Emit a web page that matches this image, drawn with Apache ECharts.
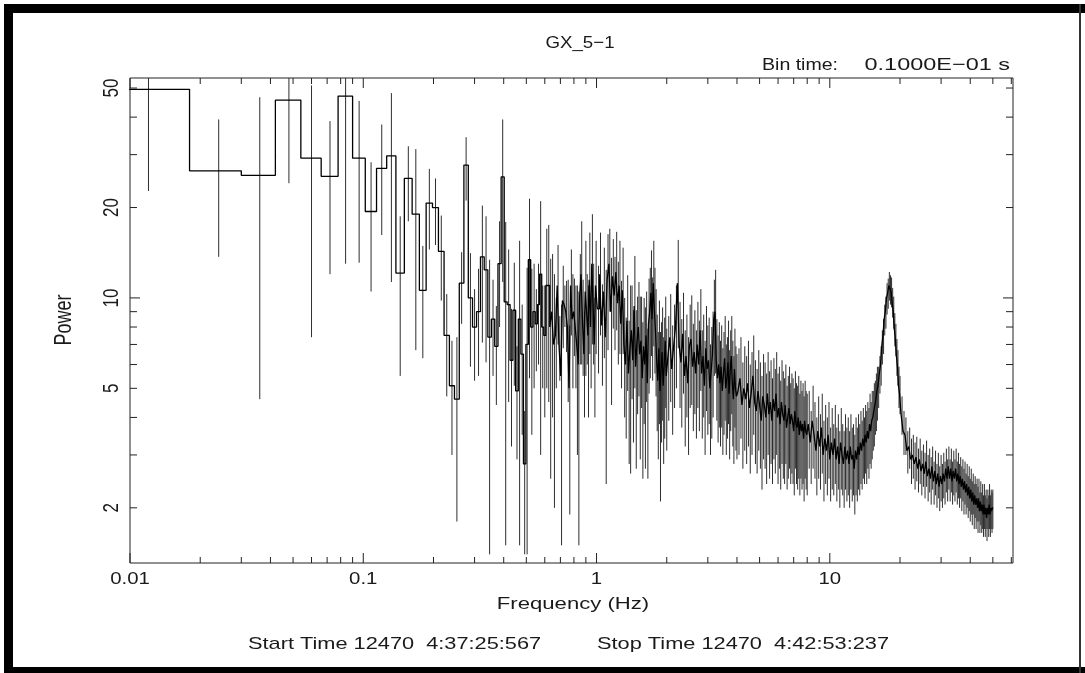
<!DOCTYPE html>
<html>
<head>
<meta charset="utf-8">
<script src="https://cdn.jsdelivr.net/npm/echarts@6/dist/echarts.min.js"></script>
<style>
html,body{margin:0;padding:0;background:#fff;}
#chart{width:1085px;height:673px;}
</style>
</head>
<body>
<div id="chart"></div>
<script>
// power spectrum GX_5-1, frequency (Hz) / power / 1-sigma error
var freqLow = [0.012,0.024,0.036,0.048,0.060,0.072,0.084,0.096,0.108,0.120,
  0.132,0.144,0.156,0.168,0.180,0.192,0.204,0.216,0.228,0.240,
  0.252,0.264,0.276,0.288,0.300,0.312,0.324,0.336,0.348,0.360,
  0.372,0.384,0.396,0.408,0.420,0.432,0.444,0.456,0.468,0.480,
  0.492,0.504,0.516,0.528,0.540,0.552,0.564,0.576,0.588,0.600,
  0.612,0.624,0.636,0.648,0.660,0.672,0.684,0.696,0.708,0.720,
  0.732,0.744,0.756,0.768,0.780,0.792,0.804,0.816,0.828,0.840,
  0.852,0.864,0.876,0.888,0.900,0.912,0.924,0.936,0.948,0.960,
  0.972,0.984,0.996];
var powLow = [49.5,26.5,25.6,45.6,29.2,25.4,47.0,29.2,19.4,27.0,
  29.7,12.1,25.0,19.0,10.6,20.7,20.0,14.3,7.5,5.1,
  4.6,11.2,27.7,10.0,8.0,9.0,13.7,12.4,7.4,8.5,
  6.9,13.0,25.3,9.7,9.5,6.2,9.1,4.9,8.5,6.5,
  2.8,7.0,13.4,8.0,9.0,8.2,9.5,12.0,8.0,7.5,
  11.0,11.0,8.0,9.0,7.0,7.5,11.0,7.0,5.5,9.8,
  9.5,9.0,8.0,5.0,11.0,8.5,9.0,8.0,7.0,6.0,
  10.0,12.0,8.5,6.5,10.5,9.0,7.5,11.5,8.0,13.0,
  9.5,7.0,11.0];
var errLow = [26.8,12.8,21.0,21.5,21.8,13.4,34.0,16.1,8.9,10.8,
  18.4,6.6,7.0,12.3,4.3,6.2,5.0,4.5,2.8,2.1,
  2.8,3.0,6.6,4.1,2.7,3.5,6.6,6.3,6.0,3.0,
  2.5,5.0,14.0,8.2,5.0,3.0,4.0,2.0,7.0,3.0,
  1.4,5.6,8.0,4.5,4.0,2.5,3.5,9.0,3.0,3.5,
  6.0,6.5,5.5,5.0,5.0,2.5,4.0,1.7,4.0,3.0,
  1.5,2.4,3.5,3.1,3.5,3.5,2.6,3.0,4.0,4.5,
  4.0,6.0,3.0,2.5,5.0,3.0,3.5,5.0,3.0,6.0,
  3.5,3.0,4.5];

var freqMid = [1.02,1.04,1.06,1.08,1.10,1.12,1.14,1.16,1.18,1.20,
  1.22,1.24,1.26,1.28,1.30,1.32,1.34,1.36,1.38,1.40,
  1.42,1.44,1.46,1.48,1.50,1.52,1.54,1.56,1.58,1.60,
  1.62,1.64,1.66,1.68,1.70,1.72,1.74,1.76,1.78,1.80,
  1.82,1.84,1.86,1.88,1.90,1.92,1.94,1.96,1.98,2.00,
  2.04,2.08,2.12,2.16,2.20,2.24,2.28,2.32,2.36,2.40,
  2.44,2.48,2.52,2.56,2.60,2.64,2.68,2.72,2.76,2.80,
  2.84,2.88,2.92,2.96,3.00,3.04,3.08,3.12,3.16,3.20,
  3.24,3.28,3.32,3.36,3.40,3.44,3.48,3.52,3.56,3.60,
  3.64,3.68,3.72,3.76,3.80,3.84,3.88,3.92,3.96,4.00,
  4.08,4.16,4.24,4.32,4.40,4.48,4.56,4.64,4.72,4.80,
  4.88,4.96,5.04,5.12,5.20,5.28,5.36,5.44,5.52,5.60,
  5.68,5.76,5.84,5.92,6.00,6.08,6.16,6.24,6.32,6.40,
  6.48,6.56,6.64,6.72,6.80,6.88,6.96,7.04,7.12,7.20,
  7.28,7.36,7.44,7.52,7.60,7.68,7.76,7.84,7.92,8.00];
var powMid = [9.2,12.0,8.1,10.5,7.4,11.5,13.0,9.0,11.8,10.2,
  12.2,9.6,11.0,8.2,10.6,7.0,6.0,8.4,5.6,6.8,
  7.8,6.2,9.4,5.9,7.1,8.0,6.5,7.2,5.4,6.9,
  6.0,7.5,5.2,8.2,9.0,10.4,8.5,11.2,9.1,7.7,
  6.2,5.3,6.8,4.9,5.8,6.6,5.1,6.0,7.2,5.5,
  6.3,7.4,5.8,6.9,8.0,11.2,7.0,6.1,7.6,5.5,
  6.4,5.2,6.9,7.3,5.9,6.6,5.6,7.0,6.0,7.8,
  5.6,6.4,5.1,6.8,5.8,6.2,5.0,5.7,6.5,8.5,
  9.0,6.2,5.4,6.0,5.2,5.9,4.9,5.6,6.3,5.0,
  5.4,6.1,4.8,5.7,6.4,5.2,4.6,5.8,5.0,4.7,
  4.9,5.4,4.4,5.0,4.6,5.2,4.3,4.8,5.5,4.5,
  4.2,4.9,4.4,3.9,4.7,4.4,4.0,4.8,4.1,4.5,
  3.9,4.6,4.2,4.8,4.0,4.3,3.8,4.5,4.1,3.9,
  4.4,3.7,4.0,4.3,3.8,4.1,3.9,3.6,4.2,3.8,
  3.7,4.0,3.5,3.9,3.6,3.8,3.4,3.9,3.6,3.5];
var errMid = [3.6,4.5,3.0,4.2,5.0,4.8,4.0,4.6,3.9,3.5,
  4.4,3.6,4.5,3.2,4.1,3.0,2.6,3.5,2.8,4.2,
  3.2,2.9,4.4,3.2,3.0,3.3,3.6,2.9,2.9,3.1,
  3.3,3.0,2.7,3.4,3.6,4.0,3.2,4.3,3.5,3.0,
  2.6,2.4,3.0,2.8,2.5,2.7,2.3,2.6,2.9,2.4,
  2.4,2.9,2.3,2.6,3.0,4.4,2.7,2.4,2.8,2.3,
  2.4,2.2,2.6,2.9,2.3,2.5,2.2,2.7,2.4,2.9,
  2.2,2.4,2.1,2.6,2.3,2.4,2.0,2.3,2.5,3.0,
  3.4,2.3,2.1,2.3,2.0,2.2,1.9,2.1,2.4,2.0,
  2.0,2.3,1.9,2.1,2.3,2.0,1.8,2.1,1.9,1.8,
  1.9,2.0,1.7,1.9,1.8,2.0,1.7,1.8,2.0,1.7,
  1.6,1.8,1.7,1.6,1.8,1.7,1.6,1.8,1.6,1.7,
  1.5,1.7,1.6,1.8,1.6,1.6,1.5,1.7,1.6,1.5,
  1.6,1.4,1.5,1.6,1.4,1.5,1.5,1.4,1.5,1.4,
  1.4,1.5,1.3,1.4,1.3,1.4,1.3,1.4,1.3,1.3];

var freqHigh = [8.16,8.32,8.48,8.64,8.80,8.96,9.12,9.28,9.44,9.60,
  9.76,9.92,10.08,10.24,10.40,10.56,10.72,10.88,11.04,11.20,
  11.36,11.52,11.68,11.84,12.00,12.16,12.32,12.48,12.64,12.80,
  12.96,13.12,13.28,13.44,13.60,13.76,13.92,14.08,14.24,14.40,
  14.56,14.72,14.88,15.04,15.20,15.36,15.52,15.68,15.84,16.00,
  16.2,16.4,16.6,16.8,17.0,17.2,17.4,17.6,17.8,18.0,
  18.2,18.4,18.6,18.8,19.0,19.2,19.4,19.6,19.8,20.0,
  20.4,20.8,21.2,21.6,22.0,22.4,22.8,23.2,23.6,24.0,
  24.4,24.8,25.2,25.6,26.0,26.4,26.8,27.2,27.6,28.0,
  28.4,28.8,29.2,29.6,30.0,30.4,30.8,31.2,31.6,32.0,
  32.4,32.8,33.2,33.6,34.0,34.4,34.8,35.2,35.6,36.0,
  36.4,36.8,37.2,37.6,38.0,38.4,38.8,39.2,39.6,40.0,
  40.4,40.8,41.2,41.6,42.0,42.4,42.8,43.2,43.6,44.0,
  44.4,44.8,45.2,45.6,46.0,46.4,46.8,47.2,47.6,48.0,
  48.4,48.8,49.2,49.6,50.0];
var powHigh = [3.8,3.3,3.9,3.5,3.1,3.6,3.2,3.7,3.0,3.4,
  3.1,3.5,2.9,3.3,3.0,3.4,2.9,3.2,2.8,3.3,
  3.0,2.8,3.2,2.9,3.1,2.8,3.2,2.9,3.0,2.7,
  3.1,2.9,3.2,3.0,3.3,3.1,3.4,3.2,3.5,3.3,
  3.6,3.4,3.8,3.6,3.9,4.0,4.2,4.4,4.6,4.9,
  5.1,5.6,6.0,6.9,7.5,8.5,9.0,10.0,10.4,11.0,
  10.7,10.5,9.7,9.0,7.9,7.3,6.4,5.9,5.1,4.8,
  4.1,3.6,3.5,3.1,3.2,2.9,3.0,2.8,2.95,2.7,
  2.9,2.65,2.8,2.6,2.85,2.55,2.7,2.5,2.75,2.45,
  2.65,2.4,2.6,2.35,2.55,2.4,2.6,2.45,2.7,2.5,
  2.75,2.5,2.7,2.45,2.65,2.5,2.7,2.45,2.6,2.4,
  2.55,2.35,2.5,2.3,2.45,2.25,2.4,2.2,2.35,2.15,
  2.3,2.1,2.25,2.05,2.2,2.05,2.15,2.0,2.15,1.95,
  2.1,1.95,2.05,1.9,2.05,1.9,2.0,1.85,2.0,1.9,
  2.05,1.9,2.0,1.95,2.0];
var errHigh = [1.1,0.9,1.2,1.0,0.9,1.1,0.9,1.1,0.9,1.0,
  0.9,1.0,0.8,1.0,0.8,1.0,0.8,0.9,0.8,1.0,
  0.8,0.8,0.9,0.8,0.9,0.8,0.9,0.8,0.8,0.8,
  0.9,0.8,0.9,0.8,0.9,0.8,0.9,0.8,0.9,0.9,
  0.9,0.9,1.0,0.9,1.0,0.9,1.0,0.9,1.0,1.0,
  0.8,0.8,0.9,0.9,1.0,1.0,1.1,1.2,1.2,1.2,
  1.2,1.2,1.1,1.1,1.0,0.9,0.9,0.8,0.8,0.7,
  0.6,0.6,0.5,0.5,0.5,0.5,0.5,0.5,0.5,0.45,
  0.5,0.45,0.45,0.45,0.5,0.45,0.45,0.45,0.45,0.4,
  0.45,0.4,0.45,0.4,0.45,0.4,0.45,0.4,0.45,0.4,
  0.45,0.4,0.45,0.4,0.45,0.4,0.45,0.4,0.45,0.4,
  0.4,0.4,0.4,0.4,0.4,0.35,0.4,0.35,0.4,0.35,
  0.4,0.35,0.35,0.35,0.35,0.35,0.35,0.35,0.35,0.3,
  0.35,0.3,0.35,0.3,0.35,0.3,0.3,0.3,0.3,0.3,
  0.35,0.3,0.3,0.3,0.3];

// axis ticks and labels
var xTickVals = [0.01,0.02,0.03,0.04,0.05,0.06,0.07,0.08,0.09,
  0.1,0.2,0.3,0.4,0.5,0.6,0.7,0.8,0.9,
  1,2,3,4,5,6,7,8,9,10,20,30,40,50,60];
var xMajor = [0.01,0.1,1,10];
var xLabelVals = [0.01,0.1,1,10];
var xLabels = ['0.01','0.1','1','10'];
var yTickVals = [2,3,4,5,6,7,8,9,10,20,30,40,50];
var yMajor = [10];
var yLabelVals = [2,5,10,20,50];
var yLabels = ['2','5','10','20','50'];

var X_MIN = 0.01, X_MAX = 61, Y_MIN = 1.31, Y_MAX = 54;
var FONT = '"Liberation Sans", Arial, Helvetica, sans-serif';
var INK = '#1a1a1a';

var freq = freqLow.concat(freqMid, freqHigh);
var power = powLow.concat(powMid, powHigh);
var err = errLow.concat(errMid, errHigh);

// histogram style step: each bin runs between the midpoints to its neighbours
var stepPts = [];
for (var i = 0; i < freq.length; i++) {
  var left = i === 0 ? freq[0] - (freq[1] - freq[0]) / 2 : (freq[i - 1] + freq[i]) / 2;
  var right = i === freq.length - 1 ? freq[i] + (freq[i] - freq[i - 1]) / 2 : (freq[i] + freq[i + 1]) / 2;
  if (left <= 0) left = X_MIN / 2;
  stepPts.push([left, power[i]], [right, power[i]]);
}
var errData = freq.map(function (f, i) { return [f, power[i], err[i]]; });

var myChart = echarts.init(document.getElementById('chart'), null, {renderer: 'canvas'});

function txt(t, x, y, align, sx, size) {
  return {
    type: 'text', x: x, y: y, scaleX: sx, silent: true,
    style: {text: t, fill: INK, fontSize: size || 17, fontFamily: FONT, align: align, verticalAlign: 'middle'}
  };
}

var option = {
  animation: false,
  backgroundColor: '#fff',
  grid: {left: 130, top: 78, right: 72, bottom: 110, show: true, borderColor: '#222', borderWidth: 1, backgroundColor: 'transparent'},
  xAxis: {
    type: 'log', min: X_MIN, max: X_MAX, logBase: 10,
    axisLine: {show: false}, axisTick: {show: false}, axisLabel: {show: false}, splitLine: {show: false}
  },
  yAxis: {
    type: 'log', min: Y_MIN, max: Y_MAX, logBase: 10,
    axisLine: {show: false}, axisTick: {show: false}, axisLabel: {show: false}, splitLine: {show: false}
  },
  graphic: [
    {type: 'rect', shape: {x: 4, y: 4, width: 1081, height: 9}, style: {fill: '#000'}, silent: true},
    {type: 'rect', shape: {x: 4, y: 4, width: 9, height: 669}, style: {fill: '#000'}, silent: true},
    {type: 'rect', shape: {x: 4, y: 667, width: 1081, height: 6}, style: {fill: '#000'}, silent: true},
    {type: 'rect', shape: {x: 1079, y: 4, width: 2, height: 669}, style: {fill: '#333'}, silent: true},
    txt('GX_5\u22121', 580, 43, 'center', 1.1),
    txt('Bin time:', 762, 65, 'left', 1.15),
    txt('0.1000E\u221201 s', 1010, 65, 'right', 1.38),
    txt('Frequency (Hz)', 573, 604, 'center', 1.3),
    txt('Start Time 12470  4:37:25:567', 248, 644, 'left', 1.28),
    txt('Stop Time 12470  4:42:53:237', 889, 644, 'right', 1.28),
    {
      type: 'text', x: 65, y: 320, rotation: Math.PI / 2, scaleY: 1.3, silent: true,
      style: {text: 'Power', fill: INK, fontSize: 18, fontFamily: FONT, align: 'center', verticalAlign: 'middle'}
    }
  ],
  series: [
    {
      // error bars
      type: 'custom', clip: true, silent: true, z: 2,
      data: errData,
      renderItem: function (params, api) {
        var f = api.value(0), p = api.value(1), e = api.value(2);
        var lo = Math.max(p - e, 0.5);
        var a = api.coord([f, p + e]), b = api.coord([f, lo]);
        return {type: 'line', shape: {x1: a[0], y1: a[1], x2: b[0], y2: b[1]},
          style: {stroke: '#2e2e2e', lineWidth: 1}};
      }
    },
    {
      // step line
      type: 'line', data: stepPts, symbol: 'none', silent: true, z: 3, clip: true,
      lineStyle: {color: '#000', width: 1.3}
    },
    {
      // x ticks, bottom and top, pointing inward
      type: 'custom', clip: false, silent: true, z: 4,
      data: xTickVals.map(function (v) { return [v, Y_MIN]; }),
      renderItem: function (params, api) {
        var v = api.value(0);
        var len = xMajor.indexOf(v) >= 0 ? 10 : 6;
        var b = api.coord([v, Y_MIN]), t = api.coord([v, Y_MAX]);
        var st = {stroke: '#222', lineWidth: 1};
        return {type: 'group', children: [
          {type: 'line', shape: {x1: b[0], y1: b[1], x2: b[0], y2: b[1] - len}, style: st},
          {type: 'line', shape: {x1: t[0], y1: t[1], x2: t[0], y2: t[1] + len}, style: st}
        ]};
      }
    },
    {
      // y ticks, left and right, pointing inward
      type: 'custom', clip: false, silent: true, z: 4,
      data: yTickVals.map(function (v) { return [X_MIN, v]; }),
      renderItem: function (params, api) {
        var v = api.value(1);
        var len = yMajor.indexOf(v) >= 0 ? 10 : 7;
        var l = api.coord([X_MIN, v]), r = api.coord([X_MAX, v]);
        var st = {stroke: '#222', lineWidth: 1};
        return {type: 'group', children: [
          {type: 'line', shape: {x1: l[0], y1: l[1], x2: l[0] + len, y2: l[1]}, style: st},
          {type: 'line', shape: {x1: r[0], y1: r[1], x2: r[0] - len, y2: r[1]}, style: st}
        ]};
      }
    },
    {
      // x tick labels
      type: 'custom', clip: false, silent: true, z: 4,
      data: xLabelVals.map(function (v) { return [v, Y_MIN]; }),
      renderItem: function (params, api) {
        var p = api.coord([api.value(0), Y_MIN]);
        return {type: 'text', x: p[0], y: p[1] + 16, scaleX: 1.2,
          style: {text: xLabels[params.dataIndex], fill: INK, fontSize: 17, fontFamily: FONT, align: 'center', verticalAlign: 'middle'}};
      }
    },
    {
      // y tick labels, written upward as in the original plot
      type: 'custom', clip: false, silent: true, z: 4,
      data: yLabelVals.map(function (v) { return [X_MIN, v]; }),
      renderItem: function (params, api) {
        var p = api.coord([X_MIN, api.value(1)]);
        return {type: 'text', x: p[0] - 18, y: p[1], rotation: Math.PI / 2, scaleY: 1.25,
          style: {text: yLabels[params.dataIndex], fill: INK, fontSize: 17, fontFamily: FONT, align: 'center', verticalAlign: 'middle'}};
      }
    }
  ]
};
myChart.setOption(option);
window.onresize = myChart.resize;
</script>
</body>
</html>
